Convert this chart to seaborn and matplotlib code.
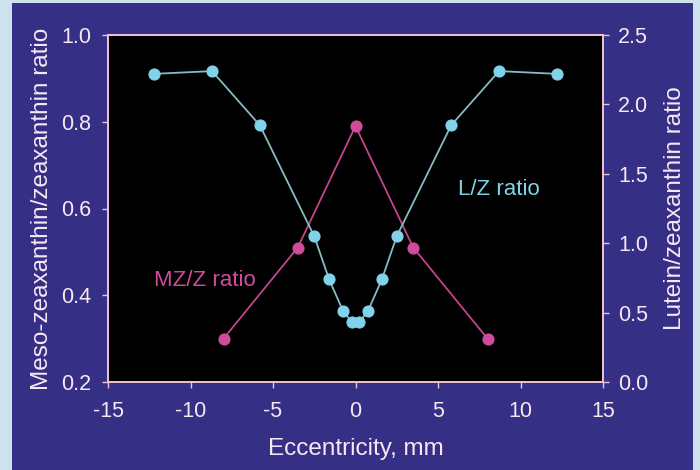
import matplotlib
matplotlib.use("Agg")
import matplotlib.pyplot as plt
from matplotlib.patches import Rectangle
import seaborn as sns
import pandas as pd

# L/Z ratio (right axis) against eccentricity
lz_ecc = [-12.2, -8.7, -5.8, -2.5, -1.6, -0.75, -0.2, 0.2, 0.75, 1.6, 2.5, 5.8, 8.7, 12.2]
lz_ratio = [2.22, 2.24, 1.85, 1.05, 0.74, 0.51, 0.43, 0.43, 0.51, 0.74, 1.05, 1.85, 2.24, 2.22]

# MZ/Z ratio (left axis) against eccentricity
mz_ecc = [-8.0, -3.5, 0.0, 3.5, 8.0]
mz_ratio = [0.30, 0.51, 0.79, 0.51, 0.30]

x_ticks = [-15, -10, -5, 0, 5, 10, 15]
left_ticks = [0.2, 0.4, 0.6, 0.8, 1.0]
right_ticks = [0.0, 0.5, 1.0, 1.5, 2.0, 2.5]

lz_df = pd.DataFrame({"ecc": lz_ecc, "ratio": lz_ratio})
mz_df = pd.DataFrame({"ecc": mz_ecc, "ratio": mz_ratio})

sns.set_style("white")
plt.rcParams["font.family"] = ["Liberation Sans", "DejaVu Sans"]

TXT = "#f7e8f2"
SPINE = "#f0c4d6"
PANEL = "#352f86"
CYAN = "#80d3ea"
CYAN_LINE = "#86bcc6"
MAG = "#cf4b9c"
MAG_LINE = "#c4448f"

fig = plt.figure(figsize=(7, 4.7), dpi=100, facecolor="#cde2ed")
fig.add_artist(Rectangle((12 / 700, 0), 681 / 700, 1 - 3 / 470,
                         transform=fig.transFigure, facecolor=PANEL,
                         edgecolor="none", zorder=-10))

ax = fig.add_axes([108 / 700, 1 - 382 / 470, 495 / 700, 347 / 470])
ax.set_facecolor("black")
ax2 = ax.twinx()

sns.lineplot(data=mz_df, x="ecc", y="ratio", ax=ax, sort=False, color=MAG_LINE,
             lw=1.3, marker="o", markersize=8, markerfacecolor=MAG,
             markeredgecolor=MAG)
sns.lineplot(data=lz_df, x="ecc", y="ratio", ax=ax2, sort=False, color=CYAN_LINE,
             lw=1.3, marker="o", markersize=8, markerfacecolor=CYAN,
             markeredgecolor=CYAN)

ax.set_xlim(-15, 15)
ax.set_ylim(0.2, 1.0)
ax2.set_ylim(0.0, 2.5)
ax.set_xticks(x_ticks)
ax.set_xticklabels([str(t) for t in x_ticks])
ax.set_yticks(left_ticks)
ax.set_yticklabels([f"{t:.1f}" for t in left_ticks])
ax2.set_yticks(right_ticks)
ax2.set_yticklabels([f"{t:.1f}" for t in right_ticks])

for a in (ax, ax2):
    for s in a.spines.values():
        s.set_color(SPINE)
        s.set_linewidth(1.2)
        s.set_visible(True)
    a.tick_params(colors=SPINE, labelcolor=TXT, labelsize=15.5, length=4,
                  width=1, direction="out")
ax.tick_params(axis="x", pad=10, bottom=True)
ax.tick_params(axis="y", pad=8, left=True)
ax2.tick_params(axis="y", pad=7, right=True)

ax.set_xlabel("Eccentricity, mm", color=TXT, fontsize=17.5, labelpad=11)
ax.set_ylabel("Meso-zeaxanthin/zeaxanthin ratio", color=TXT, fontsize=17.5, labelpad=6)
ax2.set_ylabel("Lutein/zeaxanthin ratio", color=TXT, fontsize=17.5, labelpad=11)

ax.text(-12.2, 0.435, "MZ/Z ratio", color=MAG, fontsize=16, va="center", ha="left")
ax.text(6.2, 0.643, "L/Z ratio", color=CYAN, fontsize=16, va="center", ha="left")

fig.savefig("out.png", dpi=100, facecolor=fig.get_facecolor())
